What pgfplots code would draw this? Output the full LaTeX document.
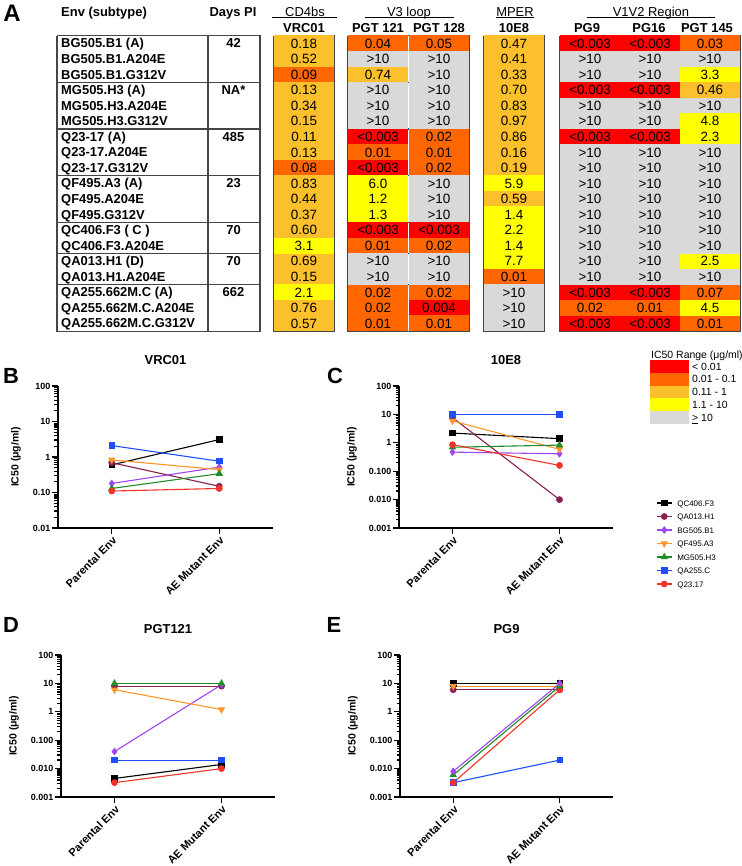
\documentclass[border=0pt]{standalone}
\usepackage{pgfplots}
\pgfplotsset{compat=1.18}
\usepackage{fontspec}
\setmainfont{Liberation Sans}
\newcommand\fsz[1]{\fontsize{#1}{#1}\selectfont}

\definecolor{cR}{RGB}{255,0,0}
\definecolor{cO}{RGB}{255,102,0}
\definecolor{cL}{RGB}{252,192,45}
\definecolor{cY}{RGB}{255,255,0}
\definecolor{cG}{RGB}{217,217,217}
\definecolor{bd}{RGB}{70,70,70}
\definecolor{cMaroon}{RGB}{140,30,80}
\definecolor{cViolet}{RGB}{160,70,240}
\definecolor{cOrange}{RGB}{255,150,40}
\definecolor{cGreen}{RGB}{30,140,40}
\definecolor{cBlue}{RGB}{30,80,250}
\definecolor{cRed}{RGB}{245,50,40}

\pgfdeclareplotmark{cell}{\pgfpathrectangle{\pgfqpoint{-30.4bp}{-7.95bp}}{\pgfqpoint{60.8bp}{15.9bp}}\pgfusepathqfill}
\pgfdeclareplotmark{swatch}{\pgfpathrectangle{\pgfqpoint{-19.5bp}{-6.45bp}}{\pgfqpoint{39bp}{12.9bp}}\pgfusepathqfill}

\pgfplotsset{
  cellc/.style={only marks, mark=cell, color=#1, mark options={fill=#1, draw=none},
    visualization depends on={value \thisrow{lab}\as\lbl},
    nodes near coords={\lbl},
    every node near coord/.append style={anchor=center, text=black, inner sep=0pt, text height=9.6bp, text depth=0pt, font=\fsz{13.5}},
  },
  sQC/.style={black, mark=square*, mark size=2.7bp, mark options={solid}},
  sQA/.style={cMaroon, mark=*, mark size=2.8bp, mark options={solid}},
  sBG/.style={cViolet, mark=diamond*, mark size=3bp, mark options={solid}},
  sQF/.style={cOrange, mark=triangle*, mark size=3.2bp, mark options={solid, rotate=180}},
  sMG/.style={cGreen, mark=triangle*, mark size=3.2bp, mark options={solid}},
  sQB/.style={cBlue, mark=square*, mark size=2.7bp, mark options={solid}},
  sQ23/.style={cRed, mark=*, mark size=2.8bp, mark options={solid}},
  gpax/.style={
    scale only axis, height=142bp,
    xmin=-0.5, xmax=1.5,
    axis lines=left, axis line style={-, line width=1.7bp},
    xtick={0,1}, xticklabels={Parental Env, AE Mutant Env},
    xticklabel style={rotate=45, anchor=north east, font=\bfseries\fsz{11}, inner sep=1bp},
    yticklabel style={font=\bfseries\fsz{9}, inner sep=1.5bp},
    tick align=outside, major tick length=6bp, minor tick length=3.5bp,
    every tick/.append style={black, line width=1.2bp},
    ylabel={IC50 (μg/ml)}, ylabel style={font=\bfseries\fsz{10.5}}, ylabel shift=7bp,
    title style={font=\bfseries\fsz{13}, at={(0.5,1)}, anchor=center, yshift=20bp},
    every axis plot/.append style={line width=1.1bp},
  },
  gpB/.style={ymin=0.01, ymax=100, ytick={0.01,0.1,1,10,100}, yticklabels={0.01,0.10,1,10,100},
    minor ytick={0.02,0.03,0.04,0.05,0.06,0.07,0.08,0.09,0.2,0.3,0.4,0.5,0.6,0.7,0.8,0.9,2,3,4,5,6,7,8,9,20,30,40,50,60,70,80,90}},
  gpC/.style={ymin=0.001, ymax=100, ytick={0.001,0.01,0.1,1,10,100}, yticklabels={0.001,0.010,0.100,1,10,100},
    minor ytick={0.002,0.003,0.004,0.005,0.006,0.007,0.008,0.009,0.02,0.03,0.04,0.05,0.06,0.07,0.08,0.09,0.2,0.3,0.4,0.5,0.6,0.7,0.8,0.9,2,3,4,5,6,7,8,9,20,30,40,50,60,70,80,90}},
}

\tikzset{
  tb/.style={inner sep=0pt, text height=9.3bp, text depth=0pt, font=\bfseries\fsz{13}},
  tn/.style={inner sep=0pt, text height=9.3bp, text depth=0pt, font=\fsz{13}},
  lg/.style={inner sep=0pt, text height=7.5bp, text depth=0pt, font=\fsz{10.5}, anchor=west},
  pl/.style={inner sep=0pt, text height=15.8bp, text depth=0pt, font=\bfseries\fsz{22}, anchor=center},
}

\newcommand\blk[2]{\addplot[bd, line width=1.2bp, unbounded coords=jump] coordinates {
 (#1,35.5) (#2,35.5) (#2,331.1) (#1,331.1) (#1,35.5) (nan,nan)
 (#1,82.2) (#2,82.2) (nan,nan) (#1,128.9) (#2,128.9) (nan,nan)
 (#1,175.5) (#2,175.5) (nan,nan) (#1,222.2) (#2,222.2) (nan,nan)
 (#1,253.3) (#2,253.3) (nan,nan) (#1,284.4) (#2,284.4)};}

\begin{document}
\begin{tikzpicture}
%================ Panel A (table heat map) and page frame
\begin{axis}[at={(0,0)}, anchor=north west, scale only axis,
  width=742bp, height=866bp, xmin=0, xmax=742, ymin=0, ymax=866,
  y dir=reverse, hide axis, clip=false]

% columns: VRC01 x=304, PGT121 x=378, PGT128 x=439, 10E8 x=514, PG9 x=590, PG16 x=650, PGT145 x=710
% IC50 < 0.01 (red)
\addplot[cellc=cR] table[x=x, y=y] {
x y lab
378 136.6 <0.003
378 167.8 <0.003
378 230.0 <0.003
439 230.0 <0.003
439 307.8 0.004
590 43.3 <0.003
590 90.0 <0.003
590 136.6 <0.003
590 292.2 <0.003
590 323.3 <0.003
650 43.3 <0.003
650 90.0 <0.003
650 136.6 <0.003
650 292.2 <0.003
650 323.3 <0.003
};
% 0.01 - 0.1 (orange)
\addplot[cellc=cO] table[x=x, y=y] {
x y lab
304 74.4 0.09
304 167.8 0.08
378 43.3 0.04
378 152.2 0.01
378 245.6 0.01
378 292.2 0.02
378 307.8 0.02
378 323.3 0.01
439 43.3 0.05
439 136.6 0.02
439 152.2 0.01
439 167.8 0.02
439 245.6 0.02
439 292.2 0.02
439 323.3 0.01
514 276.7 0.01
590 307.8 0.02
650 307.8 0.01
710 43.3 0.03
710 292.2 0.07
710 323.3 0.01
};
% 0.11 - 1 (light orange)
\addplot[cellc=cL] table[x=x, y=y] {
x y lab
304 43.3 0.18
304 58.9 0.52
304 90.0 0.13
304 105.5 0.34
304 121.1 0.15
304 136.6 0.11
304 152.2 0.13
304 183.3 0.83
304 198.9 0.44
304 214.4 0.37
304 230.0 0.60
304 261.1 0.69
304 276.7 0.15
304 307.8 0.76
304 323.3 0.57
378 74.4 0.74
514 43.3 0.47
514 58.9 0.41
514 74.4 0.33
514 90.0 0.70
514 105.5 0.83
514 121.1 0.97
514 136.6 0.86
514 152.2 0.16
514 167.8 0.19
514 198.9 0.59
710 90.0 0.46
};
% 1.1 - 10 (yellow)
\addplot[cellc=cY] table[x=x, y=y] {
x y lab
304 245.6 3.1
304 292.2 2.1
378 183.3 6.0
378 198.9 1.2
378 214.4 1.3
514 183.3 5.9
514 214.4 1.4
514 230.0 2.2
514 245.6 1.4
514 261.1 7.7
710 74.4 3.3
710 121.1 4.8
710 136.6 2.3
710 261.1 2.5
710 307.8 4.5
};
% >= 10 (grey)
\addplot[cellc=cG] table[x=x, y=y] {
x y lab
378 58.9 >10
378 90.0 >10
378 105.5 >10
378 121.1 >10
378 261.1 >10
378 276.7 >10
439 58.9 >10
439 74.4 >10
439 90.0 >10
439 105.5 >10
439 121.1 >10
439 183.3 >10
439 198.9 >10
439 214.4 >10
439 261.1 >10
439 276.7 >10
514 292.2 >10
514 307.8 >10
514 323.3 >10
590 58.9 >10
590 74.4 >10
590 105.5 >10
590 121.1 >10
590 152.2 >10
590 167.8 >10
590 183.3 >10
590 198.9 >10
590 214.4 >10
590 230.0 >10
590 245.6 >10
590 261.1 >10
590 276.7 >10
650 58.9 >10
650 74.4 >10
650 105.5 >10
650 121.1 >10
650 152.2 >10
650 167.8 >10
650 183.3 >10
650 198.9 >10
650 214.4 >10
650 230.0 >10
650 245.6 >10
650 261.1 >10
650 276.7 >10
710 58.9 >10
710 105.5 >10
710 152.2 >10
710 167.8 >10
710 183.3 >10
710 198.9 >10
710 214.4 >10
710 230.0 >10
710 245.6 >10
710 276.7 >10
};

% block borders
\blk{57}{260}
\addplot[bd, line width=1.2bp] coordinates {(208,35.5) (208,331.1)};
\blk{274}{334}
\blk{348}{469}
\blk{484}{544}
\blk{560}{740}

% header underlines
\addplot[black, line width=0.8bp] coordinates {(272,17.6) (337,17.6)};
\addplot[black, line width=0.8bp] coordinates {(365,17.6) (454,17.6)};
\addplot[black, line width=0.8bp] coordinates {(496,17.6) (534,17.6)};
\addplot[black, line width=0.8bp] coordinates {(587,17.6) (715,17.6)};

% headers
\node[tb, anchor=west] at (axis cs:61,12.3) {Env (subtype)};
\node[tb] at (axis cs:233,12.3) {Days PI};
\node[tn] at (axis cs:305,12.0) {CD4bs};
\node[tn] at (axis cs:409,12.0) {V3 loop};
\node[tn] at (axis cs:515,12.0) {MPER};
\node[tn] at (axis cs:651,12.0) {V1V2 Region};
\node[tb] at (axis cs:304,27.5) {VRC01};
\node[tb] at (axis cs:378,27.5) {PGT 121};
\node[tb] at (axis cs:439,27.5) {PGT 128};
\node[tb] at (axis cs:514,27.5) {10E8};
\node[tb] at (axis cs:587,27.5) {PG9};
\node[tb] at (axis cs:649,27.5) {PG16};
\node[tb] at (axis cs:707,27.5) {PGT 145};

% env names
\node[tb, anchor=west] at (axis cs:61,43.3) {BG505.B1 (A)};
\node[tb, anchor=west] at (axis cs:61,58.9) {BG505.B1.A204E};
\node[tb, anchor=west] at (axis cs:61,74.4) {BG505.B1.G312V};
\node[tb, anchor=west] at (axis cs:61,90.0) {MG505.H3 (A)};
\node[tb, anchor=west] at (axis cs:61,105.5) {MG505.H3.A204E};
\node[tb, anchor=west] at (axis cs:61,121.1) {MG505.H3.G312V};
\node[tb, anchor=west] at (axis cs:61,136.6) {Q23-17 (A)};
\node[tb, anchor=west] at (axis cs:61,152.2) {Q23-17.A204E};
\node[tb, anchor=west] at (axis cs:61,167.8) {Q23-17.G312V};
\node[tb, anchor=west] at (axis cs:61,183.3) {QF495.A3 (A)};
\node[tb, anchor=west] at (axis cs:61,198.9) {QF495.A204E};
\node[tb, anchor=west] at (axis cs:61,214.4) {QF495.G312V};
\node[tb, anchor=west] at (axis cs:61,230.0) {QC406.F3 ( C )};
\node[tb, anchor=west] at (axis cs:61,245.6) {QC406.F3.A204E};
\node[tb, anchor=west] at (axis cs:61,261.1) {QA013.H1 (D)};
\node[tb, anchor=west] at (axis cs:61,276.7) {QA013.H1.A204E};
\node[tb, anchor=west] at (axis cs:61,292.2) {QA255.662M.C (A)};
\node[tb, anchor=west] at (axis cs:61,307.8) {QA255.662M.C.A204E};
\node[tb, anchor=west] at (axis cs:61,323.3) {QA255.662M.C.G312V};

% days PI
\node[tb] at (axis cs:233.5,43.3) {42};
\node[tb] at (axis cs:233.5,90.0) {NA*};
\node[tb] at (axis cs:233.5,136.6) {485};
\node[tb] at (axis cs:233.5,183.3) {23};
\node[tb] at (axis cs:233.5,230.0) {70};
\node[tb] at (axis cs:233.5,261.1) {70};
\node[tb] at (axis cs:233.5,292.2) {662};

% IC50 range key
\addplot[only marks, mark=swatch, cR] coordinates {(669.5,366.4)};
\addplot[only marks, mark=swatch, cO] coordinates {(669.5,379.2)};
\addplot[only marks, mark=swatch, cL] coordinates {(669.5,392.0)};
\addplot[only marks, mark=swatch, cY] coordinates {(669.5,404.8)};
\addplot[only marks, mark=swatch, cG] coordinates {(669.5,417.6)};
\node[lg] at (axis cs:651,354.5) {IC50 Range (μg/ml)};
\node[lg] at (axis cs:692,366.4) {< 0.01};
\node[lg] at (axis cs:692,379.2) {0.01 - 0.1};
\node[lg] at (axis cs:692,392.0) {0.11 - 1};
\node[lg] at (axis cs:692,404.8) {1.1 - 10};
\node[lg] at (axis cs:692,417.6) {\underline{>} 10};

% panel letters
\node[inner sep=0pt, text height=17.2bp, text depth=0pt, font=\bfseries\fsz{24}, anchor=center] at (axis cs:12,13) {A};
\node[pl] at (axis cs:11,375.5) {B};
\node[pl] at (axis cs:335,375.5) {C};
\node[pl] at (axis cs:11,625) {D};
\node[pl] at (axis cs:334,625) {E};
\end{axis}

%================ Panel B: VRC01
\begin{axis}[gpax, gpB, ymode=log, at={(58bp,-528bp)}, anchor=south west, width=215bp, title={VRC01}]
\addplot[sQC] coordinates {(0,0.60) (1,3.1)};
\addplot[sQA] coordinates {(0,0.69) (1,0.15)};
\addplot[sBG] coordinates {(0,0.18) (1,0.52)};
\addplot[sQF] coordinates {(0,0.83) (1,0.44)};
\addplot[sMG] coordinates {(0,0.13) (1,0.34)};
\addplot[sQB] coordinates {(0,2.1) (1,0.76)};
\addplot[sQ23] coordinates {(0,0.11) (1,0.13)};
\end{axis}

%================ Panel C: 10E8 (with series legend)
\begin{axis}[gpax, gpC, ymode=log, at={(399bp,-528bp)}, anchor=south west, width=214bp, title={10E8},
  legend style={at={(axis description cs:1.201,0.211)}, anchor=north west, draw=none, fill=none,
    inner sep=0pt, font=\fsz{8}, column sep=5bp, row sep=0pt,
    nodes={inner sep=0pt, text height=8bp, text depth=5.5bp}},
  legend cell align=left,
  legend image code/.code={\draw[mark repeat=2, mark phase=2, line width=1.1bp] plot coordinates {(0bp,2bp) (7.5bp,2bp) (15bp,2bp)};}]
\addplot[sQC] coordinates {(0,2.2) (1,1.4)};
\addplot[sQA] coordinates {(0,7.7) (1,0.01)};
\addplot[sBG] coordinates {(0,0.47) (1,0.41)};
\addplot[sQF] coordinates {(0,5.9) (1,0.59)};
\addplot[sMG] coordinates {(0,0.70) (1,0.83)};
\addplot[sQB] coordinates {(0,10) (1,10)};
\addplot[sQ23] coordinates {(0,0.86) (1,0.16)};
\legend{QC406.F3, QA013.H1, BG505.B1, QF495.A3, MG505.H3, QA255.C, Q23.17}
\end{axis}

%================ Panel D: PGT121
\begin{axis}[gpax, gpC, ymode=log, at={(61bp,-797bp)}, anchor=south west, width=214bp, title={PGT121}]
\addplot[sQC] coordinates {(0,0.0045) (1,0.014)};
\addplot[sQA] coordinates {(0,8) (1,8)};
\addplot[sBG] coordinates {(0,0.04) (1,9)};
\addplot[sQF] coordinates {(0,6.0) (1,1.2)};
\addplot[sMG] coordinates {(0,10) (1,10)};
\addplot[sQB] coordinates {(0,0.02) (1,0.02)};
\addplot[sQ23] coordinates {(0,0.0032) (1,0.010)};
\end{axis}

%================ Panel E: PG9
\begin{axis}[gpax, gpC, ymode=log, at={(400bp,-797bp)}, anchor=south west, width=213bp, title={PG9}]
\addplot[sQC] coordinates {(0,10) (1,10)};
\addplot[sQA] coordinates {(0,6) (1,6)};
\addplot[sQF] coordinates {(0,8) (1,8)};
\addplot[sQB] coordinates {(0,0.0032) (1,0.02)};
\addplot[sQ23] coordinates {(0,0.0032) (1,6)};
\addplot[sMG] coordinates {(0,0.006) (1,8)};
\addplot[sBG] coordinates {(0,0.008) (1,10)};
\end{axis}

\pgfresetboundingbox
\useasboundingbox (0,0) rectangle (742bp,-866bp);
\end{tikzpicture}
\end{document}
